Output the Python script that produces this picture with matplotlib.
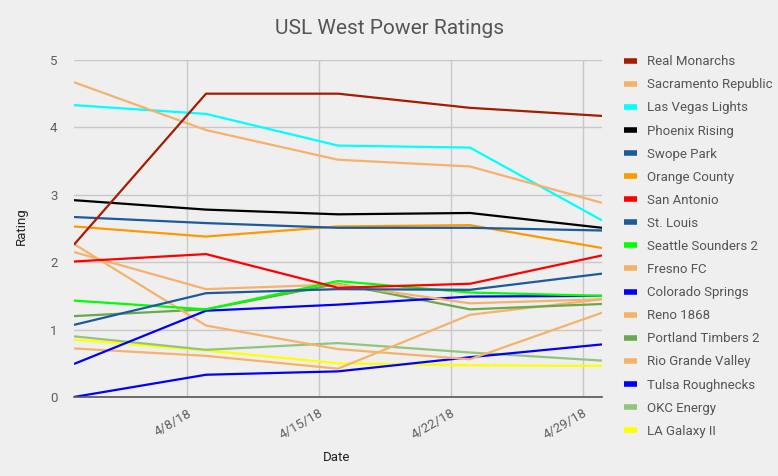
import datetime as dt

import matplotlib
matplotlib.use("Agg")
import matplotlib.pyplot as plt
from matplotlib.lines import Line2D

# data
dates = [dt.date(2018, 4, 2), dt.date(2018, 4, 9), dt.date(2018, 4, 16),
         dt.date(2018, 4, 23), dt.date(2018, 4, 30)]
tick_dates = [dt.date(2018, 4, 8), dt.date(2018, 4, 15),
              dt.date(2018, 4, 22), dt.date(2018, 4, 29)]
tick_labels = ["4/8/18", "4/15/18", "4/22/18", "4/29/18"]

teams = ["Real Monarchs", "Sacramento Republic", "Las Vegas Lights",
         "Phoenix Rising", "Swope Park", "Orange County", "San Antonio",
         "St. Louis", "Seattle Sounders 2", "Fresno FC", "Colorado Springs",
         "Reno 1868", "Portland Timbers 2", "Rio Grande Valley",
         "Tulsa Roughnecks", "OKC Energy", "LA Galaxy II"]

real_monarchs = [2.26, 4.50, 4.50, 4.29, 4.17]
sacramento = [4.67, 3.96, 3.52, 3.42, 2.88]
las_vegas = [4.33, 4.20, 3.73, 3.70, 2.62]
phoenix = [2.92, 2.78, 2.71, 2.73, 2.51]
swope_park = [2.67, 2.58, 2.51, 2.51, 2.47]
orange_county = [2.53, 2.38, 2.53, 2.55, 2.21]
san_antonio = [2.01, 2.12, 1.62, 1.68, 2.10]
st_louis = [1.07, 1.54, 1.60, 1.59, 1.83]
seattle = [1.43, 1.30, 1.72, 1.55, 1.50]
fresno = [2.15, 1.60, 1.67, 1.39, 1.45]
colorado = [0.49, 1.28, 1.37, 1.49, 1.50]
reno = [2.27, 1.06, 0.71, 0.56, 1.25]
portland = [1.20, 1.30, 1.68, 1.30, 1.38]
rio_grande = [0.72, 0.61, 0.42, 1.22, 1.45]
tulsa = [0.00, 0.33, 0.38, 0.59, 0.78]
okc = [0.90, 0.70, 0.80, 0.66, 0.54]
la_galaxy = [0.85, 0.69, 0.50, 0.47, 0.46]

series = [real_monarchs, sacramento, las_vegas, phoenix, swope_park,
          orange_county, san_antonio, st_louis, seattle, fresno, colorado,
          reno, portland, rio_grande, tulsa, okc, la_galaxy]
colors = ["#a61c00", "#f6b26b", "#00ffff", "#000000", "#1c5a9c",
          "#ff9900", "#ff0000", "#1c5a9c", "#00ff00", "#f6b26b", "#0000ff",
          "#f6b26b", "#6aa84f", "#f6b26b", "#0000ff", "#93c47d", "#ffff00"]

bg = "#efefef"
plt.rcParams['font.family'] = ['Roboto', 'DejaVu Sans']

fig = plt.figure(figsize=(7.78, 4.76), dpi=100, facecolor=bg)
ax = fig.add_axes([0.0951, 0.166, 0.6787, 0.708], facecolor=bg)

# draw from the bottom of the legend up so the first entries sit on top
for name, vals, col in reversed(list(zip(teams, series, colors))):
    ax.plot(dates, vals, color=col, lw=1.6, solid_capstyle='butt')

ax.set_xlim(dates[0], dates[-1])
ax.set_ylim(0, 5)
ax.set_yticks([0, 1, 2, 3, 4, 5])
ax.set_xticks(tick_dates)
ax.set_xticklabels(tick_labels, rotation=30, ha='right', rotation_mode='anchor')
ax.grid(True, color="#c8c8c8", lw=1)
ax.set_axisbelow(True)
for s in ["top", "right", "left"]:
    ax.spines[s].set_visible(False)
ax.spines["bottom"].set_color("#555555")
ax.spines["bottom"].set_linewidth(1.2)
ax.tick_params(axis='both', length=0, colors="#5f5f5f", labelsize=9.5)
ax.tick_params(axis='x', pad=7)
ax.tick_params(axis='y', pad=12)

fig.text(0.501, 0.94, "USL West Power Ratings", ha='center', va='center',
         fontsize=15, color="#555555")
fig.text(0.027, 0.525, "Rating", rotation=90, ha='center', va='center',
         fontsize=9.5, color="#222222")
fig.text(0.433, 0.038, "Date", ha='center', va='center',
         fontsize=9.5, color="#222222")

handles = [Line2D([], [], color=c, lw=4, solid_capstyle='butt') for c in colors]
leg = fig.legend(handles, teams, loc='upper left', bbox_to_anchor=(0.795, 0.895),
                 frameon=False, fontsize=9.5, handlelength=1.0,
                 handletextpad=0.75, labelspacing=0.765, borderaxespad=0)
for t in leg.get_texts():
    t.set_color("#555555")

fig.savefig("out.png", dpi=100, facecolor=bg)
